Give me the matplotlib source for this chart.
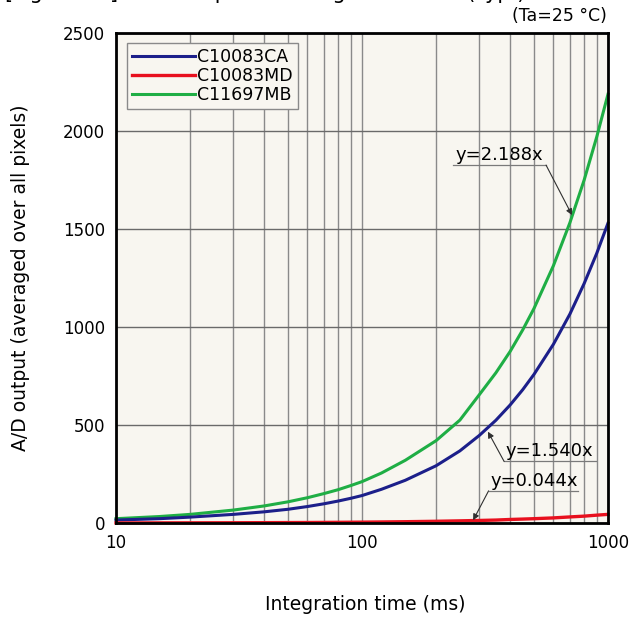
import matplotlib
matplotlib.use("Agg")
import matplotlib.pyplot as plt
from matplotlib.ticker import LogLocator, NullFormatter, FixedLocator


####################
# DATA
####################
int_time = [10, 15, 20, 30, 40, 50, 60, 70, 80, 90, 100, 120, 150, 200, 250,
            300, 350, 400, 450, 500, 600, 700, 800, 900, 1000]   # ms

ca_out = [15, 22, 30, 44, 57, 70, 84, 98, 112, 126, 140, 172, 218, 292, 368,
          447, 524, 602, 680, 758, 912, 1066, 1222, 1376, 1530]      # C10083CA
md_out = [0.4, 0.7, 0.9, 1.3, 1.8, 2.2, 2.6, 3.1, 3.5, 4.0, 4.4, 5.3, 6.6, 8.8, 11,
          13, 15, 18, 20, 22, 26, 31, 35, 40, 44]                    # C10083MD
mb_out = [22, 33, 44, 66, 87, 108, 129, 150, 170, 191, 211, 255, 320, 420, 525,
          655, 766, 875, 985, 1094, 1313, 1532, 1750, 1970, 2188]    # C11697MB

series_names = ["C10083CA", "C10083MD", "C11697MB"]
series_colors = ["#1c1f8a", "#e8101e", "#1fae45"]

y_ticks = [0, 500, 1000, 1500, 2000, 2500]
x_ticks = [10, 100, 1000]

# fit labels: text, text position (x, y), end of underline (x), arrow tip (x, y)
fit_labels = [
    ("y=2.188x", (239, 1852), 560, (714, 1571)),
    ("y=1.540x", (384, 340), 890, (325, 466)),
    ("y=0.044x", (332, 190), 752, (283, 14)),
]
# which side of the underline the leader leaves from
leader_side = ["right", "left", "left"]


def draw_fit_label(ax, text, pos, x_end, tip, side):
    """text with an underline, then a leader line with a small arrow to the curve"""
    x0, y0 = pos
    y_line = y0 - 26
    ax.text(x0, y0, text, fontsize=13, ha="left", va="baseline", zorder=6)
    ax.plot([x0 * 0.985, x_end], [y_line, y_line], color="#7a7a7a", lw=0.9, zorder=6)
    start = (x_end, y_line) if side == "right" else (x0 * 0.985, y_line)
    ax.annotate("", xy=tip, xytext=start,
                arrowprops=dict(arrowstyle="-|>", color="#303030", lw=0.8,
                                mutation_scale=9, shrinkA=0, shrinkB=0),
                zorder=6)


fig = plt.figure(figsize=(6.35, 6.24), dpi=100)
ax = fig.add_axes([116 / 635, 101 / 624, 492 / 635, 490 / 624])
ax.set_facecolor("#f8f6f0")

# curves (green below, red on top)
ax.plot(int_time, mb_out, color=series_colors[2], lw=2.2, label=series_names[2], zorder=3, clip_on=False)
ax.plot(int_time, ca_out, color=series_colors[0], lw=2.2, label=series_names[0], zorder=4, clip_on=False)
ax.plot(int_time, md_out, color=series_colors[1], lw=2.4, label=series_names[1], zorder=5, clip_on=False)

ax.set_xscale("log")
ax.set_xlim(10, 1000)
ax.set_ylim(0, 2500)

ax.xaxis.set_major_locator(FixedLocator(x_ticks))
ax.xaxis.set_minor_locator(LogLocator(base=10, subs=range(2, 10)))
ax.xaxis.set_minor_formatter(NullFormatter())
ax.set_xticklabels([str(t) for t in x_ticks])
ax.set_yticks(y_ticks)

ax.grid(True, which="both", axis="x", color="#8a8a8a", lw=1.0, zorder=1)
ax.grid(True, which="major", axis="y", color="#6a6a6a", lw=1.0, zorder=1)
ax.set_axisbelow(True)
ax.tick_params(which="both", length=0, labelsize=12, pad=8)

for sp in ax.spines.values():
    sp.set_linewidth(2.0)
    sp.set_color("black")
    sp.set_zorder(7)

ax.set_xlabel("Integration time (ms)", fontsize=13.5)
ax.set_ylabel("A/D output (averaged over all pixels)", fontsize=13.5)
ax.xaxis.set_label_coords(0.506, -0.147)
ax.yaxis.set_label_coords(-0.175, 0.5)

# legend in order CA, MD, MB
handles, labels = ax.get_legend_handles_labels()
order = [labels.index(n) for n in series_names]
leg = ax.legend([handles[i] for i in order], [labels[i] for i in order],
                loc="upper left", bbox_to_anchor=(0.022, 0.98), fontsize=12.5,
                handlelength=3.6, handletextpad=0.15, labelspacing=0.05,
                borderpad=0.3, borderaxespad=0, fancybox=False, framealpha=1)
leg.get_frame().set_edgecolor("#8a8a8a")
leg.get_frame().set_facecolor("#f8f6f0")
leg.get_frame().set_linewidth(1.0)
leg.set_zorder(8)

for (txt, pos, x_end, tip), side in zip(fit_labels, leader_side):
    draw_fit_label(ax, txt, pos, x_end, tip, side)

# conditions, top right; the figure caption is cut off by the top edge
fig.text(607 / 635, 1 - 16 / 624, "(Ta=25 °C)", fontsize=12.5, ha="right", va="center")
fig.text(5 / 635, 1 + 1 / 624, "[Figure 10] Dark output vs. integration time (Typ.)",
         fontsize=15, ha="left", va="baseline")

fig.savefig("out.png", dpi=100)
